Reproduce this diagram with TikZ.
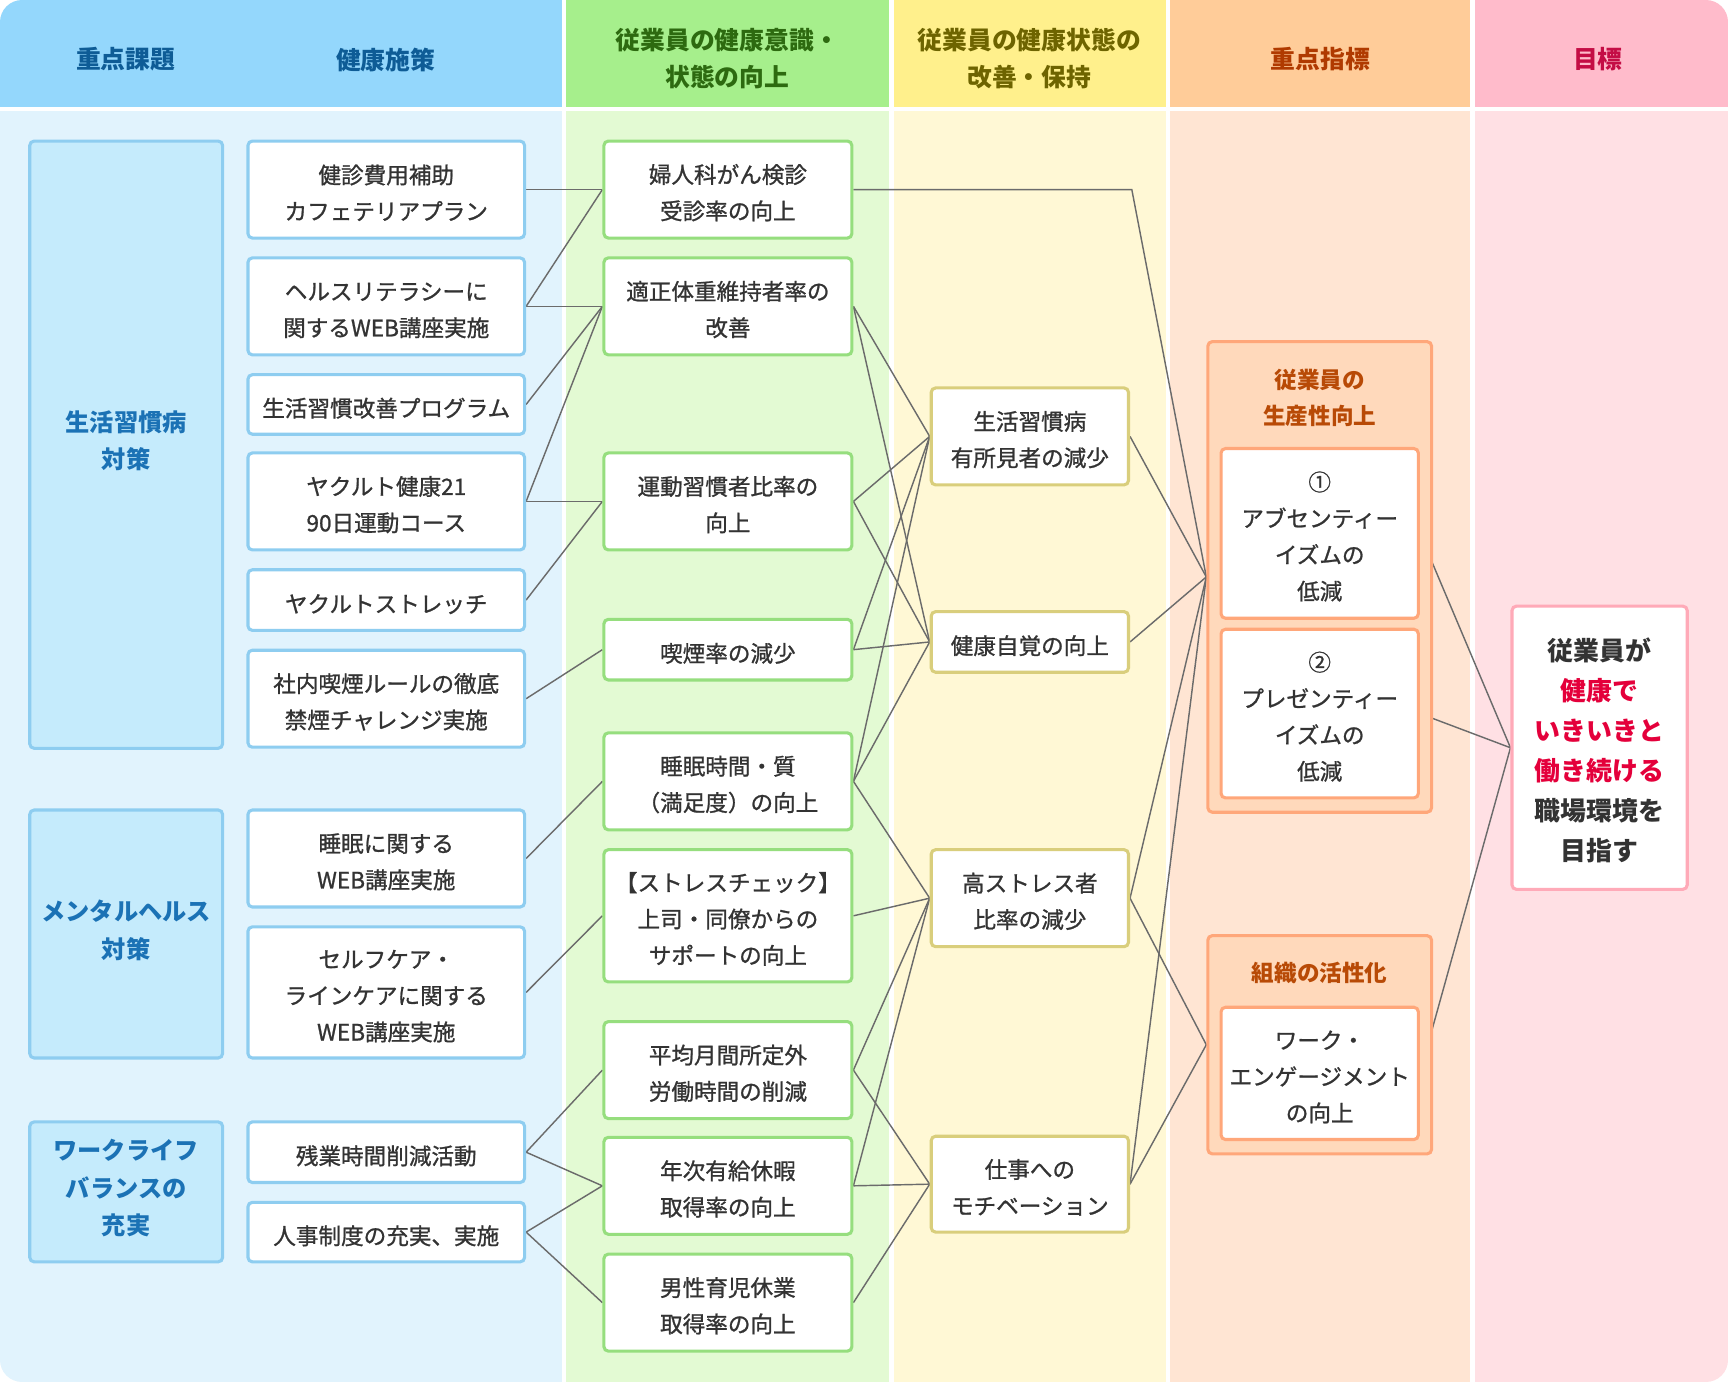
\documentclass[tikz,border=0pt]{standalone}
\usepackage{fontspec}
\setmainfont{Noto Sans CJK JP}
\newfontfamily\medfont{Noto Sans CJK JP}[FakeBold=1.0]
\newcommand\tsA{\rule{0pt}{23pt}}
\newcommand\tsG{\rule{0pt}{25.5pt}}
\definecolor{hblue}{HTML}{94D7FC}
\definecolor{bblue}{HTML}{E1F3FD}
\definecolor{catfill}{HTML}{C5EBFC}
\definecolor{bluebd}{HTML}{8ECDF0}
\definecolor{hgreen}{HTML}{A6EF8C}
\definecolor{bgreen}{HTML}{E3FAD3}
\definecolor{greenbd}{HTML}{96DE7E}
\definecolor{hyellow}{HTML}{FFF08C}
\definecolor{byellow}{HTML}{FFF8D5}
\definecolor{yellowbd}{HTML}{D9CE7C}
\definecolor{horange}{HTML}{FFCC99}
\definecolor{borange}{HTML}{FFE5D3}
\definecolor{grpfill}{HTML}{FFD9BB}
\definecolor{orangebd}{HTML}{FFA77A}
\definecolor{hpink}{HTML}{FFBBCB}
\definecolor{bpink}{HTML}{FFE0E4}
\definecolor{pinkbd}{HTML}{FFAAB8}
\definecolor{tblue}{HTML}{0E5C96}
\definecolor{tgreen}{HTML}{2D6A10}
\definecolor{tyellow}{HTML}{6E6400}
\definecolor{torange}{HTML}{B03A00}
\definecolor{tpink}{HTML}{C40D45}
\definecolor{tcat}{HTML}{1B72B5}
\definecolor{tgrp}{HTML}{B84A06}
\definecolor{goalred}{HTML}{E4003B}
\definecolor{txtgray}{HTML}{333333}
\definecolor{linegray}{HTML}{6B6B6B}
\pgfdeclarelayer{back}
\pgfdeclarelayer{mid}
\pgfsetlayers{back,mid,main}
\begin{document}
\begin{tikzpicture}[x=1pt,y=-1pt,
  rh/.initial=0pt,
  one/.style={rh=24pt},
  txt/.style={font=\medfont\fontsize{20.5}{33}\selectfont, text=txtgray, align=center,
    execute at begin node={\rule{0pt}{\pgfkeysvalueof{/tikz/rh}}}},
  hdr/.style={font=\fontsize{22.5}{34}\selectfont\bfseries, align=center},
  boxbase/.style={line width=2.8pt, fill=white, rounded corners=4pt, inner sep=0pt, txt},
  pbox/.style={boxbase, draw=bluebd, minimum width=251pt},
  gbox/.style={boxbase, draw=greenbd, minimum width=225pt},
  ybox/.style={boxbase, draw=yellowbd, minimum width=179pt},
  obox/.style={boxbase, draw=orangebd, minimum width=179pt},
  catbox/.style={draw=bluebd, fill=catfill, line width=2.8pt, rounded corners=4pt, minimum width=175pt, inner sep=0pt, font=\fontsize{22}{34}\selectfont\bfseries, text=tcat, align=center,
    execute at end node={\rule[-9pt]{0pt}{9pt}}},
  grpbox/.style={draw=orangebd, fill=grpfill, line width=2.8pt, rounded corners=4pt, minimum width=203pt, inner sep=0pt},
  grptitle/.style={font=\fontsize{20.5}{32}\selectfont\bfseries, text=tgrp, align=center},
  goalbox/.style={draw=pinkbd, fill=white, line width=2.8pt, rounded corners=4pt, minimum width=159pt, minimum height=257pt, inner sep=0pt, font=\fontsize{23.5}{36.2}\selectfont\bfseries, text=txtgray, align=center},
  conn/.style={draw=linegray, line width=1.3pt}
]
\useasboundingbox (0,0) rectangle (1568,1254);
\begin{pgfonlayer}{back}
\begin{scope}
\clip[rounded corners=20pt] (0,0) rectangle (1568,1254);
\fill[white] (0,0) rectangle (1568,1254);
\fill[hblue] (0,0) rectangle (510,97);
\fill[bblue] (0,101) rectangle (510,1254);
\fill[hgreen] (514,0) rectangle (807,97);
\fill[bgreen] (514,101) rectangle (807,1254);
\fill[hyellow] (811,0) rectangle (1058,97);
\fill[byellow] (811,101) rectangle (1058,1254);
\fill[horange] (1062,0) rectangle (1334,97);
\fill[borange] (1062,101) rectangle (1334,1254);
\fill[hpink] (1338,0) rectangle (1568,97);
\fill[bpink] (1338,101) rectangle (1568,1254);
\end{scope}
\end{pgfonlayer}

% headers
\node[hdr, text=tblue] (h1) at (114,54) {重点課題};
\node[hdr, text=tblue] (h2) at (350,54) {健康施策};
\node[hdr, text=tgreen] (h3) at (660,53) {従業員の健康意識・\\状態の向上};
\node[hdr, text=tyellow] (h4) at (934,53) {従業員の健康状態の\\改善・保持};
\node[hdr, text=torange] (h5) at (1198,54) {重点指標};
\node[hdr, text=tpink] (h6) at (1450,54) {目標};

% categories
\node[catbox, minimum height=551pt] (cat1) at (114.5,403.5) {生活習慣病\\対策};
\node[catbox, minimum height=225pt] (cat2) at (114.5,847.5) {メンタルヘルス\\対策};
\node[catbox, minimum height=127pt] (cat3) at (114.5,1081.5) {ワークライフ\\バランスの\\充実};

% policies
\node[pbox, minimum height=88pt] (p1) at (350.5,172) {\tsA 健診費用補助\\カフェテリアプラン};
\node[pbox, minimum height=88pt] (p2) at (350.5,278) {\tsA ヘルスリテラシーに\\関するWEB講座実施};
\node[pbox, one, minimum height=54pt] (p3) at (350.5,367) {生活習慣改善プログラム};
\node[pbox, minimum height=88pt] (p4) at (350.5,455) {\tsA ヤクルト健康21\\90日運動コース};
\node[pbox, one, minimum height=55pt] (p5) at (350.5,544.5) {ヤクルトストレッチ};
\node[pbox, minimum height=88pt] (p6) at (350.5,634) {\tsA 社内喫煙ルールの徹底\\禁煙チャレンジ実施};
\node[pbox, minimum height=88pt] (p7) at (350.5,779) {\tsA 睡眠に関する\\WEB講座実施};
\node[pbox, minimum height=119pt] (p8) at (350.5,900.5) {\tsA セルフケア・\\ラインケアに関する\\WEB講座実施};
\node[pbox, one, minimum height=55pt] (p9) at (350.5,1045.5) {残業時間削減活動};
\node[pbox, one, minimum height=54pt] (p10) at (350.5,1118) {人事制度の充実、実施};

% awareness
\node[gbox, minimum height=88pt] (a) at (660.5,172) {\tsA 婦人科がん検診\\受診率の向上};
\node[gbox, minimum height=88pt] (b) at (660.5,278) {\tsA 適正体重維持者率の\\改善};
\node[gbox, minimum height=88pt] (c) at (660.5,455) {\tsA 運動習慣者比率の\\向上};
\node[gbox, one, minimum height=55pt] (d) at (660.5,589.5) {喫煙率の減少};
\node[gbox, minimum height=88pt] (e) at (660.5,709) {\tsA 睡眠時間・質\\（満足度）の向上};
\node[gbox, minimum height=120pt] (f) at (660.5,831) {\tsA 【ストレスチェック】\\上司・同僚からの\\サポートの向上};
\node[gbox, minimum height=88pt] (g) at (660.5,971) {\tsA 平均月間所定外\\労働時間の削減};
\node[gbox, minimum height=88pt] (h) at (660.5,1076) {\tsA 年次有給休暇\\取得率の向上};
\node[gbox, minimum height=88pt] (i) at (660.5,1182) {\tsA 男性育児休業\\取得率の向上};

% health state
\node[ybox, minimum height=88pt] (A) at (934.5,396) {\tsA 生活習慣病\\有所見者の減少};
\node[ybox, one, minimum height=55pt] (B) at (934.5,582.5) {健康自覚の向上};
\node[ybox, minimum height=88pt] (C) at (934.5,815) {\tsA 高ストレス者\\比率の減少};
\node[ybox, minimum height=87pt] (D) at (934.5,1074.5) {\tsA 仕事への\\モチベーション};

% key indicators
\node[grpbox, minimum height=427pt] (G1) at (1197.5,523.5) {};
\node[grptitle] (G1t) at (1197.5,361) {従業員の\\生産性向上};
\node[obox, minimum height=154pt] (I1) at (1197.5,484) {\tsA ①\\アブセンティー\\イズムの\\低減};
\node[obox, minimum height=153pt] (I2) at (1197.5,647.5) {\tsA ②\\プレゼンティー\\イズムの\\低減};
\node[grpbox, minimum height=198pt] (G2) at (1197.5,948) {};
\node[grptitle] (G2t) at (1197.5,883) {組織の活性化};
\node[obox, minimum height=120pt] (I3) at (1197.5,974) {\tsA ワーク・\\エンゲージメント\\の向上};

% goal
\node[goalbox] (goal) at (1451.5,678.5) {\tsG 従業員が\\\textcolor{goalred}{健康で}\\\textcolor{goalred}{いきいきと}\\\textcolor{goalred}{働き続ける}\\職場環境を\\目指す};

\coordinate (ak) at (1027,172);

\begin{pgfonlayer}{mid}
\draw[conn] (p1.east) -- (a.west);
\draw[conn] (p2.east) -- (a.west);
\draw[conn] (p2.east) -- (b.west);
\draw[conn] (p3.east) -- (b.west);
\draw[conn] (p4.east) -- (b.west);
\draw[conn] (p4.east) -- (c.west);
\draw[conn] (p5.east) -- (c.west);
\draw[conn] (p6.east) -- (d.west);
\draw[conn] (p7.east) -- (e.west);
\draw[conn] (p8.east) -- (f.west);
\draw[conn] (p9.east) -- (g.west);
\draw[conn] (p9.east) -- (h.west);
\draw[conn] (p10.east) -- (h.west);
\draw[conn] (p10.east) -- (i.west);

\draw[conn] (a.east) -- (ak) -- (G1.west);
\draw[conn] (b.east) -- (A.west);
\draw[conn] (b.east) -- (B.west);
\draw[conn] (c.east) -- (A.west);
\draw[conn] (c.east) -- (B.west);
\draw[conn] (d.east) -- (A.west);
\draw[conn] (d.east) -- (B.west);
\draw[conn] (e.east) -- (A.west);
\draw[conn] (e.east) -- (B.west);
\draw[conn] (e.east) -- (C.west);
\draw[conn] (f.east) -- (C.west);
\draw[conn] (g.east) -- (C.west);
\draw[conn] (g.east) -- (D.west);
\draw[conn] (h.east) -- (C.west);
\draw[conn] (h.east) -- (D.west);
\draw[conn] (i.east) -- (D.west);

\draw[conn] (A.east) -- (G1.west);
\draw[conn] (B.east) -- (G1.west);
\draw[conn] (C.east) -- (G1.west);
\draw[conn] (C.east) -- (G2.west);
\draw[conn] (D.east) -- (G1.west);
\draw[conn] (D.east) -- (G2.west);

\draw[conn] (I1.east) -- (goal.west);
\draw[conn] (I2.east) -- (goal.west);
\draw[conn] (I3.east) -- (goal.west);
\end{pgfonlayer}
\end{tikzpicture}
\end{document}
